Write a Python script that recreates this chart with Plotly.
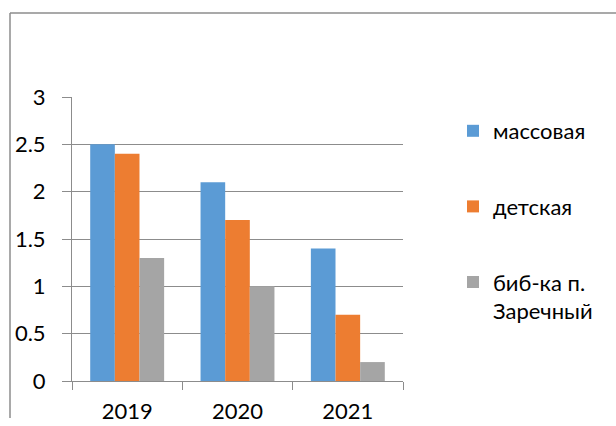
import plotly.graph_objects as go

categories = ["2019", "2020", "2021"]
series_names = ["массовая", "детская", "биб-ка п.<br>Заречный"]
massovaya = [2.5, 2.1, 1.4]
detskaya = [2.4, 1.7, 0.7]
zarechny = [1.3, 1.0, 0.2]
colors = ["#5B9BD5", "#ED7D31", "#A5A5A5"]
y_ticks = [0, 0.5, 1, 1.5, 2, 2.5, 3]

W, H = 616, 426
L, R, T, B = 72, 213, 97, 45

fig = go.Figure()
for i, (name, vals) in enumerate(zip(series_names, [massovaya, detskaya, zarechny])):
    fig.add_trace(go.Bar(x=categories, y=vals, name=name, marker_color=colors[i],
                         marker_line_width=0, legendgroup=str(i)))

pw = W - L - R
ph = H - T - B
def px_x(x):
    return (x - L) / pw
def px_y(y):
    return (H - B - y) / ph

fig.update_layout(
    width=W, height=H,
    margin=dict(l=L, r=R, t=T, b=B, autoexpand=False),
    paper_bgcolor="white", plot_bgcolor="white",
    barmode="group", bargap=0.33, bargroupgap=0,
    font=dict(family="Lato, Open Sans, sans-serif", size=22, color="#000000"),
    legend=dict(x=px_x(453), y=px_y(110), xanchor="left", yanchor="top",
                font=dict(size=22), tracegroupgap=44, valign="top",
                itemwidth=30, bgcolor="rgba(0,0,0,0)"),
    xaxis=dict(showline=True, linecolor="#8c8c8c", linewidth=1,
               ticks="outside", tickson="boundaries", ticklen=8, tickcolor="#8c8c8c",
               ticklabelstandoff=11, showgrid=False),
    yaxis=dict(range=[0, 3], tickvals=y_ticks, ticktext=[f"{v:g}" for v in y_ticks],
               showgrid=True, gridcolor="#8c8c8c", gridwidth=1,
               showline=True, linecolor="#8c8c8c", linewidth=1,
               ticks="outside", ticklen=9, tickcolor="#8c8c8c",
               ticklabelstandoff=12, zeroline=False),
    shapes=[
        dict(type="line", xref="paper", yref="paper", x0=px_x(10), x1=px_x(620),
             y0=px_y(13), y1=px_y(13), line=dict(color="#8c8c8c", width=1.5)),
        dict(type="line", xref="paper", yref="paper", x0=px_x(10), x1=px_x(10),
             y0=px_y(13), y1=px_y(418), line=dict(color="#8c8c8c", width=1.5)),
    ],
)

fig.write_html("out.html", config={"displayModeBar": False},
               post_script="document.body.style.margin='0';")
